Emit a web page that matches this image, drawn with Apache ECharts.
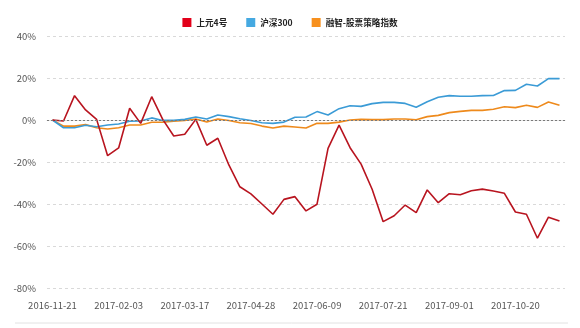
<!DOCTYPE html>
<html>
<head>
<meta charset="utf-8">
<script src="https://cdn.jsdelivr.net/npm/echarts@6/dist/echarts.min.js"></script>
<style>html,body{margin:0;padding:0;background:#fff;}#c{width:580px;height:328px;}</style>
</head>
<body>
<div id="c"></div>
<script>
const categories = [
  '2016-11-21','2016-12-02','2016-12-16','2016-12-30','2017-01-13','2017-01-20','2017-02-03',
  '2017-02-10','2017-02-17','2017-02-24','2017-03-03','2017-03-10','2017-03-17',
  '2017-03-24','2017-03-31','2017-04-07','2017-04-14','2017-04-21','2017-04-28',
  '2017-05-05','2017-05-12','2017-05-19','2017-05-26','2017-06-02','2017-06-09',
  '2017-06-16','2017-06-23','2017-06-30','2017-07-07','2017-07-14','2017-07-21',
  '2017-07-28','2017-08-04','2017-08-11','2017-08-18','2017-08-25','2017-09-01',
  '2017-09-08','2017-09-15','2017-09-22','2017-09-29','2017-10-13','2017-10-20',
  '2017-10-27','2017-11-03','2017-11-10','2017-11-17'
];
const shangyuan4 = [
  0, -0.5, 11.6, 4.8, 0.3, -17, -13.3, 5.6, -1.6, 11.1, 0.3, -7.6, -6.8, 0.3, -12, -8.7,
  -21.4, -31.8, -35.2, -40, -44.9, -37.8, -36.5, -43.3, -40.1, -13.5, -2.4, -13.2, -21, -33,
  -48.4, -45.6, -40.5, -44.1, -33.3, -39.4, -35.1, -35.6, -33.7, -32.9, -33.8, -34.9, -43.8,
  -44.9, -56.3, -46.3, -48.1
];
const hs300 = [
  0, -3.7, -3.7, -2.5, -3.2, -2.4, -1.9, -0.6, -0.5, 1, -0.2, -0.2, 0.3, 1.4, 0.5, 2.4,
  1.6, 0.6, -0.2, -1.3, -1.6, -1, 1.3, 1.4, 4, 2.4, 5.4, 6.8, 6.5, 7.8,
  8.4, 8.4, 7.9, 6.1, 8.7, 10.8, 11.6, 11.3, 11.3, 11.6, 11.7, 14, 14.1,
  17, 16.2, 19.7, 19.7
];
const rongzhi = [
  0, -2.9, -2.9, -2.2, -3.7, -4.3, -3.7, -2.4, -2.4, -1.1, -1, -0.6, -0.2, 0.5, -1, 0.5,
  -0.2, -1.3, -1.7, -2.9, -3.8, -2.9, -3.3, -3.8, -1.6, -1.6, -1, 0, 0.3, 0.2,
  0.2, 0.5, 0.5, 0.1, 1.6, 2.2, 3.5, 4.1, 4.6, 4.6, 5.1, 6.3, 5.9,
  7, 6, 8.6, 7
];
const seriesNames = ['上元4号', '沪深300', '融智-股票策略指数'];
const yTicks = { min: -80, max: 40, interval: 20 };

const chart = echarts.init(document.getElementById('c'), null, { renderer: 'canvas' });
const font = '"Microsoft YaHei","Noto Sans CJK SC","Liberation Sans",sans-serif';
function line(name, data, color, extra) {
  return Object.assign({
    name, type: 'line', data, symbol: 'none', smooth: false,
    lineStyle: { color, width: 1.6 }, itemStyle: { color }
  }, extra || {});
}
chart.setOption({
  animation: false,
  backgroundColor: '#fff',
  textStyle: { fontFamily: font },
  legend: {
    top: 13, left: 'center', itemWidth: 9, itemHeight: 9, itemGap: 19,
    icon: 'rect',
    textStyle: { fontSize: 8.6, color: '#222', fontWeight: 'bold', fontFamily: font },
    data: [
      { name: seriesNames[0], itemStyle: { color: '#e2001a' } },
      { name: seriesNames[1], itemStyle: { color: '#45a9e1' } },
      { name: seriesNames[2], itemStyle: { color: '#f7901e' } }
    ]
  },
  grid: { left: 47, right: 15, top: 36, bottom: 40, containLabel: false },
  xAxis: {
    type: 'category', data: categories, boundaryGap: true,
    axisLine: { show: true, lineStyle: { color: '#e3e3e3' } },
    axisTick: { show: false },
    axisLabel: { interval: 5, margin: 13, fontSize: 9.5, color: '#555', fontFamily: font },
    splitLine: { show: false }
  },
  yAxis: {
    type: 'value', min: yTicks.min, max: yTicks.max, interval: yTicks.interval,
    axisLine: { show: false }, axisTick: { show: false },
    axisLabel: { formatter: '{value}%', fontSize: 9.5, color: '#555', margin: 11, fontFamily: font },
    splitLine: { show: true, lineStyle: { color: '#d9d9d9', type: [3, 3], width: 1 } }
  },
  graphic: [{
    type: 'line', shape: { x1: 15, y1: 323, x2: 568, y2: 323 },
    style: { stroke: '#e2e2e2', lineWidth: 1 }, silent: true
  }],
  series: [
    line(seriesNames[2], rongzhi, '#ee8a1c', {
      markLine: {
        silent: true, symbol: 'none', label: { show: false },
        lineStyle: { color: '#7a7a7a', type: [2, 2], width: 1 },
        data: [{ yAxis: 0 }]
      }
    }),
    line(seriesNames[1], hs300, '#3b9bd6'),
    line(seriesNames[0], shangyuan4, '#b8141f')
  ]
});
</script>
</body>
</html>
